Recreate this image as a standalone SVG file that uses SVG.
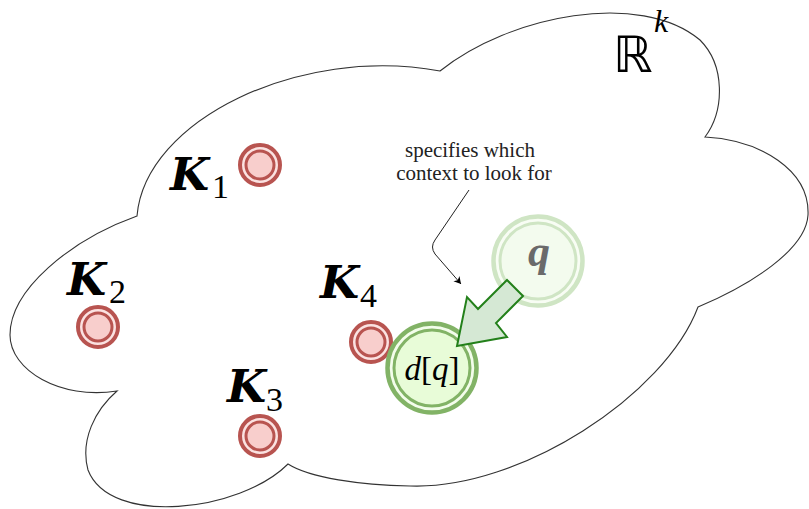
<svg xmlns="http://www.w3.org/2000/svg" width="809" height="509" viewBox="0 0 809 509">
<style>
.cloud{fill:#ffffff;stroke:#333333;stroke-width:1.1}
.kout{fill:#fbe2e1;stroke:#b85450;stroke-width:4}
.kin{fill:#f8cecc;stroke:#b85450;stroke-width:3}
.klab{font-family:"DejaVu Serif",serif;font-style:italic;font-weight:bold;font-size:45px;fill:#000}
.ksub{font-family:"Liberation Serif",serif;font-size:34px;fill:#000}
.note{font-family:"Liberation Serif",serif;font-size:21px;fill:#222;text-anchor:middle}
.gout{fill:#f3fdeb;stroke:#82b366;stroke-width:4.5}
.gin{fill:#e8fcd8;stroke:#82b366;stroke-width:3}
.qout{fill:#f8fdf4;stroke:#cfe5c4;stroke-width:4.5}
.qin{fill:#f3fbee;stroke:#cfe5c4;stroke-width:3}
</style>
<defs>
<marker id="ah" markerWidth="10" markerHeight="10" refX="8" refY="5" orient="auto" markerUnits="userSpaceOnUse">
<path d="M1 1 L8 5 L1 9 L3 5 Z" fill="#000"/>
</marker>
</defs>
<g id="space">
<path class="cloud" d="M137 216 C145 120 300 45 440 71 C510 15 640 -10 700 40 C725 65 725 110 705 137 C760 140 810 170 808 215 C806 250 750 285 698 307 C665 395 520 490 410 486 C360 485 310 478 288 464 C240 512 110 527 88 470 C80 440 95 410 117 391 C60 400 10 370 10 335 C10 290 70 240 137 216 Z"/>
<text x="613" y="72" font-family="DejaVu Sans, sans-serif" font-size="50" fill="#000">ℝ</text>
<text x="654" y="32" font-family="Liberation Serif, serif" font-style="italic" font-size="32" fill="#000">k</text>
</g>
<g id="K1">
<circle class="kout" cx="260" cy="165" r="20"/>
<circle class="kin" cx="260" cy="165" r="14"/>
<text class="klab" x="170" y="190">K</text><text class="ksub" x="212" y="198">1</text>
</g>
<g id="K2">
<circle class="kout" cx="98" cy="327" r="20"/>
<circle class="kin" cx="98" cy="327" r="14"/>
<text class="klab" x="67" y="295">K</text><text class="ksub" x="109" y="303">2</text>
</g>
<g id="K3">
<circle class="kout" cx="260" cy="436" r="20"/>
<circle class="kin" cx="260" cy="436" r="14"/>
<text class="klab" x="227" y="402">K</text><text class="ksub" x="266" y="411">3</text>
</g>
<g id="K4">
<circle class="kout" cx="371" cy="342" r="20"/>
<circle class="kin" cx="371" cy="342" r="14"/>
<text class="klab" x="320" y="298">K</text><text class="ksub" x="360" y="307">4</text>
</g>
<g id="q">
<circle class="qout" cx="538" cy="261" r="44.5"/>
<circle class="qin" cx="538" cy="261" r="38"/>
<text x="539" y="266" font-family="Liberation Serif, serif" font-style="italic" font-weight="bold" font-size="44" fill="#6a6a6a" text-anchor="middle">q</text>
</g>
<g id="dq">
<circle class="gout" cx="432" cy="368" r="44.5"/>
<circle class="gin" cx="432" cy="368" r="38"/>
<text x="432" y="380" font-family="Liberation Serif, serif" font-style="italic" font-size="33" fill="#000" text-anchor="middle">d<tspan font-style="normal">[</tspan>q<tspan font-style="normal">]</tspan></text>
</g>
<g id="connectors">
<polygon points="507,280 523,296 496,323 507,337 457,346 467,297 478,309" fill="#d5e8d4" stroke="#23801a" stroke-width="2" stroke-linejoin="miter"/>
<path d="M469 190 L435 240 Q430 247 435 254 L461 284" fill="none" stroke="#222" stroke-width="1" marker-end="url(#ah)"/>
</g>
<g id="note">
<text class="note" x="470" y="157">specifies which</text>
<text class="note" x="474" y="180">context to look for</text>
</g>
</svg>
